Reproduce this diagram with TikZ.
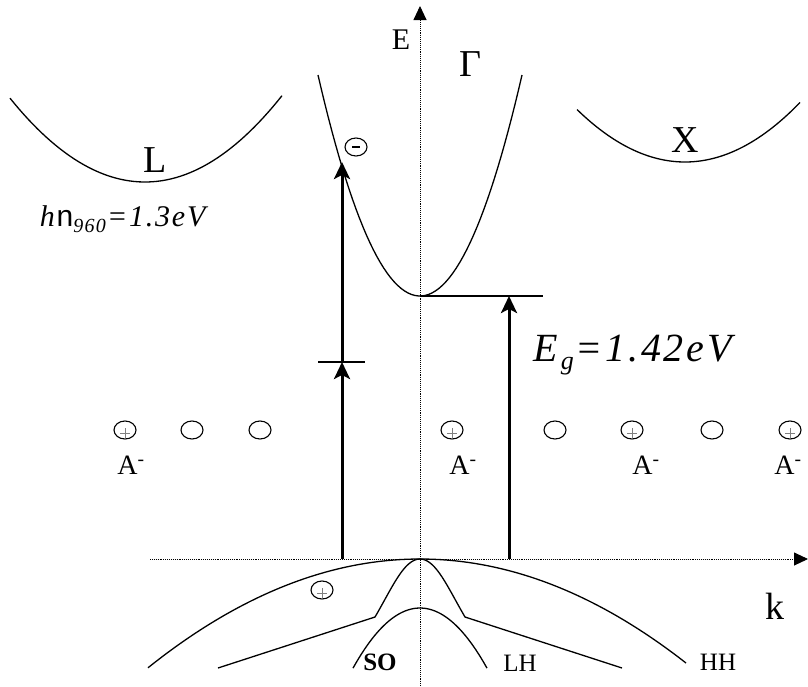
\documentclass[tikz,border=0pt]{standalone}
\usepackage{fontspec}
\setmainfont{Liberation Serif}
\setsansfont{Liberation Sans}
\usetikzlibrary{arrows.meta,shapes.geometric}
\tikzset{
  band/.style={line width=1.3pt},
  axis/.style={densely dotted, line width=0.9pt, -{Triangle[length=14pt,width=13pt]}},
  jump/.style={line width=3pt, -{Stealth[length=17pt,width=16pt,inset=4pt]}},
  ion/.style={draw, ellipse, line width=1.1pt, minimum width=22pt, minimum height=18pt, inner sep=0pt},
  big/.style={font=\fontsize{38}{40}\selectfont},
  mid/.style={font=\fontsize{25}{27}\selectfont}
}
\begin{document}
\begin{tikzpicture}[x=1pt,y=-1pt]
        \useasboundingbox (0,0) rectangle (808,686);

        % axes
        \coordinate (Ebot) at (420,686);
        \coordinate (Etop) at (420,6);
        \coordinate (kleft) at (150,559);
        \coordinate (kright) at (808,559);
        \draw[axis] (Ebot) -- (Etop);
        \draw[axis] (kleft) -- (kright);
        \node[font=\fontsize{30}{32}\selectfont] (Elab) at (401,40) {E};
        \node[big] (klab) at (775,606) {k};

        % conduction band valleys (t = dk/100)
        \draw[band] plot[domain=-1.35:1.37, samples=60] ({145+100*\x},{182-46*\x*\x});
        \draw[band] plot[domain=-1.02:1.02, samples=60] ({420+100*\x},{296-212.4*\x*\x});
        \draw[band] plot[domain=-1.08:1.15, samples=60] ({685+100*\x},{162-45*\x*\x});
        \node[big] (Llab) at (155,160) {L};
        \node[big] (Glab) at (470,64) {Γ};
        \node[big] (Xlab) at (685,140) {X};
        \coordinate (Gmin) at (420,296);
        \coordinate (Gend) at (543,296);
        \draw[band] (Gmin) -- (Gend);

        % valence bands
        \draw[band] plot[domain=-2.72:2.66, samples=80] ({420+100*\x},{559+14.7*\x*\x});
        \draw[band] (218,668) -- (375,617) .. controls (392,588) and (404,559) .. (420,559)
                    .. controls (436,559) and (448,588) .. (465,617) -- (622,668);
        \draw[band] plot[domain=-0.67:0.67, samples=50] ({420+100*\x},{608+134*\x*\x});
        \node[font=\fontsize{25}{27}\selectfont\bfseries] (SO) at (380,662) {SO};
        \node[mid] (LH) at (520,663) {LH};
        \node[mid] (HH) at (718,662) {HH};

        % carriers
        \node[ion] (el) at (356,147) {};
        \draw[line width=1.2pt] ([xshift=-4pt]el.center) -- ([xshift=4pt]el.center);
        \node[ion] (hole) at (322,590) {};
        \draw[gray, line width=0.9pt] ([yshift=-3pt]hole.center) ++(-5,0) -- ++(10,0)
              ([yshift=-3pt]hole.center) ++(0,-5) -- ++(0,10);

        % impurity row
        \foreach \x/\p in {125/1, 192/0, 260/0, 452/1, 555/0, 632/1, 712/0, 790/1} {
            \node[ion] (d\x) at (\x,430) {};
            \ifnum\p=1
              \draw[gray, line width=0.9pt] ([yshift=-3pt]d\x.center) ++(-5,0) -- ++(10,0)
                    ([yshift=-3pt]d\x.center) ++(0,-5) -- ++(0,10);
            \fi
        }
        \foreach \x in {131, 463, 646, 788}
            \node[font=\fontsize{28}{30}\selectfont] (A\x) at (\x,465) {A\textsuperscript{-}};

        % transitions
        \coordinate (v1) at (342,559);
        \coordinate (m1) at (342,362);
        \coordinate (c1) at (342,162);
        \coordinate (v2) at (509,559);
        \coordinate (c2) at (509,296);
        \draw[band] (318,362) -- (365,362);
        \draw[jump] (v1) -- (m1);
        \draw[jump] (m1) -- (c1);
        \draw[jump] (v2) -- (c2);

        \node[font=\fontsize{30}{32}\selectfont\addfontfeature{LetterSpace=6}] (hnu) at (125,219)
            {\textit{h}{\sffamily n}\raisebox{-0.45ex}{\fontsize{20}{21}\selectfont\textit{960}}\textit{=1.3eV}};
        \node[font=\fontsize{40}{42}\selectfont\addfontfeature{LetterSpace=7}] (Eg) at (636,355)
            {\textit{E}\raisebox{-0.4ex}{\fontsize{26}{28}\selectfont\textit{g}}\textit{=1.42eV}};
    \end{tikzpicture}
\end{document}
